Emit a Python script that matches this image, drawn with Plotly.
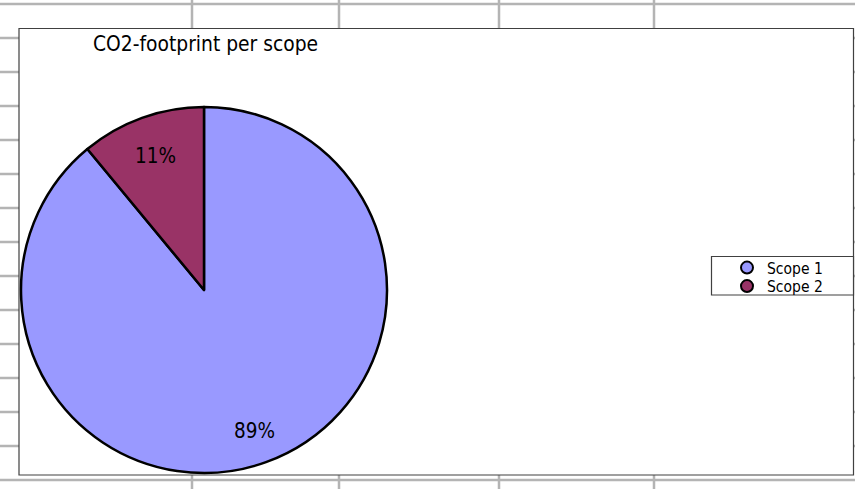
import math
import plotly.graph_objects as go

categories = ["Scope 1", "Scope 2"]
values = [89, 11]
colors = ["#9999FF", "#993366"]
title_text = "CO2-footprint per scope"

W, H = 855, 489
FONT = "DejaVu Sans Condensed, DejaVu Sans, sans-serif"

def px(x):
    return x / W

def py(y):
    return 1 - y / H

shapes = []
grid_col = "#b4b4b4"
# spreadsheet grid behind the chart
for yy in [4, 38, 72, 106, 140, 174, 208, 242, 276, 310, 344, 378, 412, 446, 480]:
    shapes.append(dict(type="line", xref="paper", yref="paper", x0=0, x1=1,
                       y0=py(yy), y1=py(yy), line=dict(color=grid_col, width=2.5), layer="below"))
for xx in [192, 339, 499, 654]:
    shapes.append(dict(type="line", xref="paper", yref="paper", x0=px(xx), x1=px(xx),
                       y0=0, y1=1, line=dict(color=grid_col, width=2.5), layer="below"))
# chart area
shapes.append(dict(type="rect", xref="paper", yref="paper", x0=px(19), x1=px(853.5),
                   y0=py(475), y1=py(28.5), fillcolor="white",
                   line=dict(color="#404040", width=1.2), layer="below"))
# legend frame
shapes.append(dict(type="rect", xref="paper", yref="paper", x0=px(711.5), x1=px(853.5),
                   y0=py(295), y1=py(256.5), fillcolor="white",
                   line=dict(color="#404040", width=1.2), layer="below"))

# pie geometry (domain)
cx0, cx1, cy0, cy1 = 21, 387, 107, 473
ccx, ccy, R = (cx0 + cx1) / 2, (cy0 + cy1) / 2, (cx1 - cx0) / 2

fig = go.Figure()
fig.add_trace(go.Pie(
    labels=categories, values=values, sort=False, direction="clockwise", rotation=0,
    marker=dict(colors=colors, line=dict(color="black", width=2.5)),
    textinfo="none",
    domain=dict(x=[px(cx0), px(cx1)], y=[py(cy1), py(cy0)]),
    showlegend=False, hoverinfo="label+percent",
))
legend_ids = ["legend", "legend2"]
for c, col, lid in zip(categories, colors, legend_ids):
    fig.add_trace(go.Scatter(
        x=[None], y=[None], mode="markers", name=c, legend=lid,
        marker=dict(symbol="circle", size=12, color=col, line=dict(color="black", width=2.2)),
        showlegend=True,
    ))

# percent labels placed at the mid-angle of each slice
annotations = []
total = sum(values)
start = 0.0
rfrac = [0.82, 0.78]
for v, rf in zip(values, rfrac):
    frac = v / total
    mid = (start + frac / 2) * 2 * math.pi
    start += frac
    lx = ccx + rf * R * math.sin(mid)
    ly = ccy - rf * R * math.cos(mid)
    annotations.append(dict(text=f"{round(frac * 100)}%", xref="paper", yref="paper",
                            x=px(lx), y=py(ly), xanchor="center", yanchor="middle",
                            showarrow=False, font=dict(family=FONT, size=20.5, color="black")))
annotations.append(dict(text=title_text, xref="paper", yref="paper", x=px(91), y=py(44),
                        xanchor="left", yanchor="middle", showarrow=False,
                        font=dict(family=FONT, size=20.8, color="black")))

leg_common = dict(xanchor="left", yanchor="middle", borderwidth=0, bgcolor="rgba(0,0,0,0)",
                  font=dict(family=FONT, size=15.5, color="black"),
                  itemsizing="constant", tracegroupgap=0, itemwidth=30)

fig.update_layout(
    width=W, height=H,
    margin=dict(l=0, r=0, t=0, b=0),
    paper_bgcolor="white", plot_bgcolor="rgba(0,0,0,0)",
    shapes=shapes,
    xaxis=dict(visible=False), yaxis=dict(visible=False),
    font=dict(family=FONT, color="black"),
    annotations=annotations,
    legend=dict(x=px(727), y=py(268), **leg_common),
    legend2=dict(x=px(727), y=py(286.5), **leg_common),
)

fig.write_html("out.html", config={"displayModeBar": False},
               post_script="document.body.style.margin='0';document.body.style.overflow='hidden';")
